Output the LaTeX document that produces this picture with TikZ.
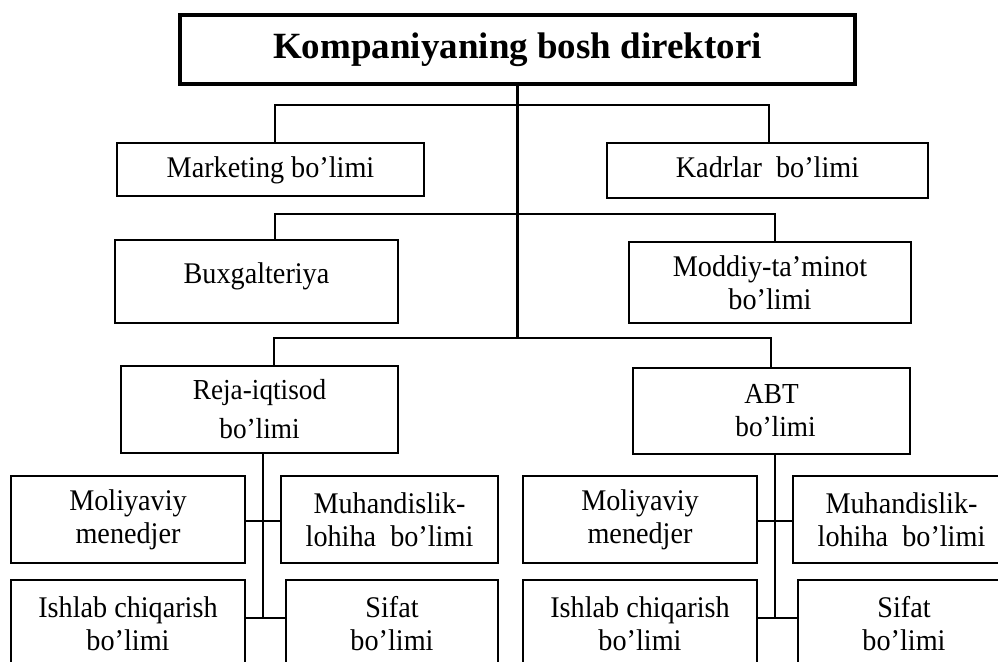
\documentclass[tikz,border=0pt]{standalone}
\usepackage{fontspec}
\setmainfont{Liberation Serif}[FakeStretch=0.94]
\newfontfamily\headfont{Liberation Serif}
\begin{document}
\begin{tikzpicture}[x=1pt,y=-1pt,
  box/.style={draw, line width=2.4pt, inner sep=0pt, align=center,
    font=\fontsize{30}{33}\selectfont},
  link/.style={line width=2.3pt},
  trunk/.style={line width=3.6pt},
]
\useasboundingbox (0,0) rectangle (998,661);
\clip (0,0) rectangle (998,661);

% head of the company
\node[draw, line width=4pt, inner sep=0pt, minimum width=675pt, minimum height=69pt,
  font=\headfont\fontsize{37}{44}\selectfont\bfseries] (ceo) at (517.5,49.5)
  {Kompaniyaning bosh direktori};

% first level departments
\node[box, minimum width=307pt, minimum height=53pt] (mkt) at (270.5,169.5)
  {\raisebox{-8pt}[0pt][0pt]{Marketing bo’limi}};
\node[box, minimum width=321pt, minimum height=55pt] (kad) at (767.5,170.5)
  {\raisebox{-7pt}[0pt][0pt]{Kadrlar\ \ bo’limi}};
\node[box, minimum width=283pt, minimum height=83pt] (bux) at (256.5,281.5)
  {\raisebox{-1.5pt}[0pt][0pt]{Buxgalteriya}};
\node[box, minimum width=282pt, minimum height=81pt] (mod) at (770,282.5) {Moddiy-ta’minot\\bo’limi};
\node[box, minimum width=277pt, minimum height=87pt, font=\fontsize{29}{39}\selectfont] (reja) at (259.5,409.5)
  {Reja-iqtisod\\bo’limi};
\node[box, minimum width=277pt, minimum height=86pt, font=\fontsize{29}{33}\selectfont] (abt) at (771.5,411)
  {ABT\\\hspace*{8pt}bo’limi};

% sections under Reja-iqtisod
\node[box, minimum width=234pt, minimum height=87pt] (mol1) at (128,519.5) {Moliyaviy\\menedjer};
\node[box, minimum width=217pt, minimum height=87pt] (muh1) at (389.5,519.5) {Muhandislik-\\lohiha\ \ bo’limi};
\node[box, minimum width=234pt, minimum height=87pt] (ish1) at (128,623.5) {Ishlab chiqarish\\bo’limi};
\node[box, minimum width=212pt, minimum height=87pt] (sif1) at (392,623.5) {Sifat\\bo’limi};

% sections under ABT
\node[box, minimum width=234pt, minimum height=87pt] (mol2) at (640,519.5) {Moliyaviy\\menedjer};
\node[box, minimum width=217pt, minimum height=87pt] (muh2) at (901.5,519.5) {Muhandislik-\\lohiha\ \ bo’limi};
\node[box, minimum width=234pt, minimum height=87pt] (ish2) at (640,623.5) {Ishlab chiqarish\\bo’limi};
\node[box, minimum width=212pt, minimum height=87pt] (sif2) at (904,623.5) {Sifat\\bo’limi};

% branch points
\coordinate (b1l) at (275,105);  \coordinate (b1r) at (769,105);
\coordinate (b2l) at (275,214);  \coordinate (b2r) at (775,214);
\coordinate (b3l) at (274,338);  \coordinate (b3r) at (771,338);
\coordinate (j1a) at (263,521);  \coordinate (j1b) at (263,618);
\coordinate (j2a) at (775,521);  \coordinate (j2b) at (775,618);

% main trunk
\draw[trunk] (ceo.south) -- (ceo.south |- b3l);

% branches to the departments
\draw[link] (mkt.north -| b1l) -- (b1l) -- (b1r) -- (kad.north -| b1r);
\draw[link] (bux.north -| b2l) -- (b2l) -- (b2r) -- (mod.north -| b2r);
\draw[link] (reja.north -| b3l) -- (b3l) -- (b3r) -- (abt.north -| b3r);

% Reja-iqtisod sections
\draw[link] (reja.south -| j1a) -- (j1b);
\draw[link] (mol1.east |- j1a) -- (muh1.west |- j1a);
\draw[link] (ish1.east |- j1b) -- (sif1.west |- j1b);

% ABT sections
\draw[link] (abt.south -| j2a) -- (j2b);
\draw[link] (mol2.east |- j2a) -- (muh2.west |- j2a);
\draw[link] (ish2.east |- j2b) -- (sif2.west |- j2b);
\end{tikzpicture}
\end{document}
